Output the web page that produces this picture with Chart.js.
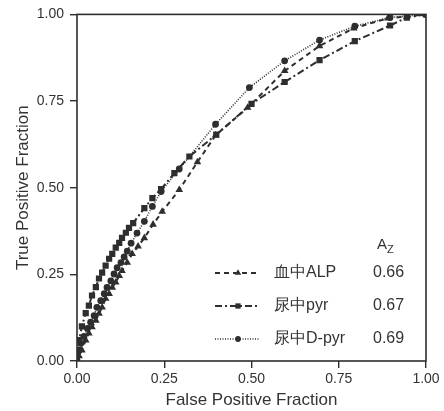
<!DOCTYPE html>
<html>
<head>
<meta charset="utf-8">
<script src="https://cdn.jsdelivr.net/npm/chart.js@4/dist/chart.umd.min.js"></script>
<style>
html,body{margin:0;padding:0;background:#fff;}
canvas{display:block;}
</style>
</head>
<body>
<canvas id="c" width="444" height="411"></canvas>
<script>
// ---- data ----
const seriesLabels = ["血中ALP", "尿中pyr", "尿中D-pyr"];
const azValues = ["0.66", "0.67", "0.69"];
const tickValues = [0, 0.25, 0.5, 0.75, 1];

const fprALP = [0,0.006,0.014,0.025,0.034,0.043,0.054,0.063,0.072,0.082,0.092,0.101,0.111,0.121,0.129,0.144,0.158,0.175,0.193,0.218,0.244,0.293,0.345,0.397,0.489,0.595,0.695,0.793,0.891,0.945,1];
const tprALP = [0,0.014,0.031,0.060,0.080,0.098,0.117,0.137,0.155,0.180,0.194,0.212,0.227,0.246,0.260,0.284,0.309,0.331,0.355,0.394,0.431,0.494,0.574,0.651,0.731,0.837,0.909,0.960,0.989,0.994,1];

const fprPyr = [0,0.003,0.006,0.014,0.025,0.034,0.043,0.054,0.063,0.072,0.082,0.092,0.101,0.111,0.121,0.129,0.140,0.149,0.161,0.193,0.216,0.241,0.279,0.322,0.399,0.500,0.595,0.695,0.796,0.897,0.945,1];
const tprPyr = [0,0.032,0.060,0.100,0.138,0.160,0.189,0.213,0.238,0.255,0.275,0.295,0.309,0.327,0.341,0.355,0.370,0.384,0.398,0.441,0.470,0.496,0.542,0.590,0.653,0.742,0.805,0.868,0.923,0.968,0.991,1];

const fprDpyr = [0,0.003,0.011,0.020,0.030,0.039,0.049,0.057,0.068,0.078,0.086,0.097,0.106,0.115,0.126,0.135,0.144,0.155,0.172,0.193,0.216,0.241,0.293,0.397,0.494,0.595,0.695,0.796,0.897,1];
const tprDpyr = [0,0.026,0.051,0.071,0.094,0.112,0.131,0.155,0.174,0.194,0.212,0.231,0.251,0.269,0.284,0.300,0.317,0.340,0.369,0.403,0.446,0.489,0.554,0.683,0.789,0.866,0.926,0.966,0.991,1];

const pts = (xs, ys) => xs.map((x, i) => ({x: x, y: ys[i]}));

const INK = '#2e2e2e';
const FONT = "'Liberation Sans', Arial, Helvetica, sans-serif";

const datasets = [
  {label: seriesLabels[0], data: pts(fprALP, tprALP), borderDash: [5, 4], borderWidth: 2,
   pointStyle: 'triangle', pointRadius: 4.4},
  {label: seriesLabels[1], data: pts(fprPyr, tprPyr), borderDash: [7, 3, 2, 3], borderWidth: 2,
   pointStyle: 'rect', pointRadius: 4.4},
  {label: seriesLabels[2], data: pts(fprDpyr, tprDpyr), borderDash: [1, 1.5], borderWidth: 1.6,
   pointStyle: 'circle', pointRadius: 3.4}
].map(d => Object.assign({
  showLine: true, borderColor: INK, backgroundColor: INK, pointBackgroundColor: INK,
  pointBorderColor: INK, pointBorderWidth: 0, tension: 0, fill: false
}, d));

const framePlugin = {
  id: 'frame',
  afterDatasetsDraw(chart) {
    const {ctx, chartArea: a} = chart;
    ctx.save();
    ctx.strokeStyle = INK;
    ctx.lineWidth = 1.6;
    ctx.setLineDash([]);
    ctx.strokeRect(a.left, a.top, a.right - a.left, a.bottom - a.top);
    ctx.restore();
  }
};

const legendPlugin = {
  id: 'customLegend',
  afterDraw(chart) {
    const ctx = chart.ctx;
    ctx.save();
    ctx.fillStyle = '#333';
    ctx.textBaseline = 'middle';
    ctx.textAlign = 'left';
    // header A_Z
    ctx.font = "15px " + FONT;
    ctx.fillText('A', 377, 245);
    ctx.font = "11px " + FONT;
    ctx.fillText('Z', 387, 250);
    const rowsY = [273, 306, 339];
    chart.data.datasets.forEach((ds, i) => {
      const y = rowsY[i];
      ctx.strokeStyle = INK;
      ctx.lineWidth = ds.borderWidth;
      ctx.setLineDash(ds.borderDash);
      ctx.beginPath();
      ctx.moveTo(215, y);
      ctx.lineTo(260, y);
      ctx.stroke();
      ctx.setLineDash([]);
      ctx.fillStyle = INK;
      Chart.helpers.drawPoint(ctx, {pointStyle: ds.pointStyle, radius: ds.pointRadius * 0.85, rotation: 0, borderWidth: 0}, 238, y);
      ctx.fillStyle = '#333';
      ctx.font = "16px " + FONT;
      ctx.fillText(seriesLabels[i], 274, y);
      ctx.fillText(azValues[i], 373, y);
    });
    ctx.restore();
  }
};

const axisCommon = {
  type: 'linear', min: 0, max: 1,
  grid: {display: true, drawOnChartArea: false, drawTicks: true, tickLength: 7, color: INK, lineWidth: 1.4},
  border: {display: false},
  afterBuildTicks(scale) { scale.ticks = tickValues.map(v => ({value: v})); },
  ticks: {color: '#333', font: {family: FONT, size: 14}, callback: v => Number(v).toFixed(2)}
};

new Chart(document.getElementById('c'), {
  type: 'scatter',
  data: {datasets: datasets},
  options: {
    responsive: false, animation: false, devicePixelRatio: 1,
    layout: {padding: {left: 0, right: 18, top: 11, bottom: 0}},
    plugins: {legend: {display: false}, tooltip: {enabled: false}},
    scales: {
      x: Object.assign({}, axisCommon, {
        position: 'bottom',
        ticks: Object.assign({}, axisCommon.ticks, {padding: 3, maxRotation: 0}),
        title: {display: true, text: 'False Positive Fraction', color: '#333', font: {family: FONT, size: 17}, padding: {top: 0, bottom: 0}},
        afterFit(s) { s.height = 50; }
      }),
      y: Object.assign({}, axisCommon, {
        position: 'left',
        ticks: Object.assign({}, axisCommon.ticks, {padding: 6}),
        title: {display: true, text: 'True Positive Fraction', color: '#333', font: {family: FONT, size: 17}, padding: {top: 13, bottom: 0}},
        afterFit(s) { s.width = 77; }
      })
    }
  },
  plugins: [framePlugin, legendPlugin]
});
</script>
</body>
</html>
